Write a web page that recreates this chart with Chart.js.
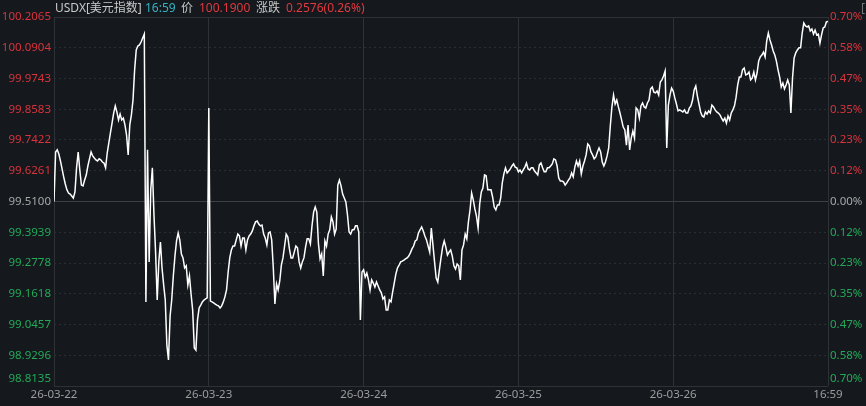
<!DOCTYPE html>
<html><head><meta charset="utf-8">
<script src="https://cdn.jsdelivr.net/npm/chart.js@4.4.1/dist/chart.umd.min.js"></script>
<style>
html,body{margin:0;padding:0;background:#15181d;}
#wrap{position:relative;width:866px;height:406px;overflow:hidden;}
#hdr span{position:absolute;top:0;font-size:12px;font-family:"Noto Sans","Noto Sans CJK SC",sans-serif;line-height:16px;white-space:nowrap;}
</style></head>
<body><div id="wrap"><canvas id="c" width="866" height="406"></canvas>
<div id="hdr">
<span style="left:55px;color:#c9c9c9">USDX[美元指数]</span>
<span style="left:145px;color:#35b3c1">16:59</span>
<span style="left:181px;color:#c9c9c9">价</span>
<span style="left:199px;color:#e0393f">100.1900</span>
<span style="left:256px;color:#c9c9c9">涨跌</span>
<span style="left:286px;color:#e0393f">0.2576(0.26%)</span>
<span style="left:861px;color:#777">[</span>
</div></div>
<script>
const dayLabels = ['26-03-22','26-03-23','26-03-24','26-03-25','26-03-26','16:59'];
const pointsPerDay = 96;
const prevClose = 99.51;
const leftTicks = [98.8135, 98.9296, 99.0457, 99.1618, 99.2778, 99.3939, 99.5100, 99.6261, 99.7422, 99.8583, 99.9743, 100.0904, 100.2065];
const leftLabels = ['98.8135','98.9296','99.0457','99.1618','99.2778','99.3939','99.5100','99.6261','99.7422','99.8583','99.9743','100.0904','100.2065'];
const pctLabels = ['0.70%','0.58%','0.47%','0.35%','0.23%','0.12%','0.00%','0.12%','0.23%','0.35%','0.47%','0.58%','0.70%'];

const pricesDay1 = [99.510,99.697,99.705,99.689,99.663,99.633,99.603,99.576,99.554,99.542,
99.538,99.531,99.523,99.546,99.637,99.697,99.629,99.572,99.569,99.591,
99.610,99.644,99.671,99.697,99.682,99.674,99.667,99.663,99.671,99.667,
99.659,99.655,99.637,99.693,99.731,99.769,99.806,99.844,99.871,99.848,
99.818,99.840,99.818,99.825,99.799,99.761,99.686,99.799,99.837,99.893,
100.007,100.082,100.097,100.101,100.112,100.127,100.142,99.131,99.705,99.282,
99.554,99.637,99.459,99.319,99.138,99.282,99.357,99.259,99.195,99.138,
98.968,98.912,99.078,99.138,99.229,99.304,99.361,99.391,99.365,99.312,
99.297,99.259,99.267,99.195,99.229,99.161,99.100,98.957,98.949,99.063,
99.108,99.119,99.131,99.138,99.142,99.146];
const pricesDay2 = [99.863,99.134,99.131,99.127,99.123,99.119,99.116,99.108,99.116,99.131,
99.150,99.176,99.244,99.297,99.327,99.342,99.342,99.365,99.387,99.380,
99.342,99.372,99.372,99.327,99.365,99.380,99.387,99.399,99.418,99.433,
99.436,99.425,99.418,99.421,99.387,99.372,99.346,99.391,99.395,99.365,
99.259,99.123,99.199,99.176,99.210,99.270,99.297,99.342,99.387,99.376,
99.331,99.297,99.297,99.319,99.342,99.335,99.282,99.259,99.282,99.297,
99.338,99.369,99.369,99.350,99.418,99.470,99.489,99.470,99.350,99.293,
99.312,99.229,99.361,99.342,99.387,99.403,99.452,99.433,99.387,99.406,
99.572,99.591,99.569,99.538,99.523,99.508,99.459,99.395,99.387,99.403,
99.403,99.418,99.418,99.395,99.063,99.244];
const pricesDay3 = [99.252,99.225,99.240,99.214,99.176,99.214,99.202,99.187,99.206,99.191,
99.176,99.165,99.142,99.150,99.100,99.100,99.138,99.131,99.168,99.202,
99.236,99.259,99.270,99.282,99.285,99.289,99.293,99.297,99.304,99.316,
99.331,99.342,99.361,99.365,99.391,99.403,99.414,99.399,99.380,99.365,
99.342,99.319,99.410,99.346,99.282,99.221,99.206,99.252,99.297,99.338,
99.361,99.338,99.308,99.319,99.327,99.304,99.267,99.255,99.274,99.267,
99.214,99.327,99.346,99.387,99.369,99.433,99.478,99.542,99.516,99.482,
99.455,99.410,99.501,99.546,99.561,99.610,99.607,99.554,99.554,99.554,
99.527,99.489,99.478,99.497,99.497,99.523,99.580,99.614,99.637,99.618,
99.625,99.633,99.644,99.652,99.640,99.637];
const pricesDay4 = [99.622,99.629,99.618,99.629,99.640,99.655,99.633,99.629,99.637,99.637,
99.625,99.618,99.610,99.648,99.655,99.637,99.622,99.622,99.637,99.637,
99.644,99.652,99.671,99.667,99.644,99.599,99.587,99.587,99.584,99.572,
99.580,99.591,99.599,99.618,99.603,99.640,99.663,99.644,99.663,99.614,
99.644,99.663,99.686,99.727,99.720,99.697,99.686,99.671,99.678,99.697,
99.712,99.697,99.659,99.644,99.659,99.682,99.712,99.795,99.867,99.912,
99.878,99.893,99.867,99.844,99.818,99.791,99.780,99.723,99.799,99.705,
99.750,99.776,99.750,99.863,99.856,99.825,99.871,99.882,99.867,99.863,
99.882,99.893,99.935,99.942,99.923,99.920,99.927,99.912,99.961,99.969,
99.984,100.003,99.712,99.874,99.912,99.938];
const pricesDay5 = [99.927,99.901,99.878,99.852,99.856,99.852,99.848,99.856,99.844,99.844,
99.863,99.871,99.893,99.931,99.946,99.908,99.878,99.848,99.833,99.829,
99.848,99.840,99.852,99.844,99.874,99.867,99.856,99.848,99.844,99.837,
99.825,99.814,99.825,99.806,99.833,99.818,99.844,99.856,99.871,99.904,
99.950,99.980,99.980,100.007,100.014,99.988,99.991,99.999,99.969,99.976,
99.999,99.969,99.995,100.040,100.056,100.063,100.074,100.056,100.116,100.146,
100.120,100.101,100.078,100.063,100.040,100.007,99.980,99.942,99.957,99.935,
99.950,99.969,99.950,99.844,99.976,100.052,100.071,100.082,100.090,100.090,
100.146,100.184,100.173,100.169,100.173,100.154,100.161,100.142,100.157,100.139,
100.142,100.108,100.139,100.165,100.169,100.188,100.190];

const prices = [].concat(pricesDay1, pricesDay2, pricesDay3, pricesDay4, pricesDay5);
const points = prices.map((p, i) => ({x: i, y: p}));

const RED = '#d8343c', GREEN = '#22aa58', GRAY = '#a6a6a6';
const tickColor = (ctx) => {
  const v = leftTicks[ctx.index];
  if (v > prevClose + 1e-6) return RED;
  if (v < prevClose - 1e-6) return GREEN;
  return GRAY;
};
const FONT = {family: '"Noto Sans", sans-serif', size: 11.5};

const bottomLabelShift = {
  id: 'bottomLabelShift',
  beforeDraw(chart) {
    ['y', 'y2'].forEach(id => {
      const s = chart.scales[id];
      if (!s || typeof s.getLabelItems !== 'function') return;
      const items = s.getLabelItems(chart.chartArea);
      const it = items && items[0];
      if (it && it.options && it.options.translation && !it._moved) {
        it.options.translation[1] -= 7;
        it._moved = true;
      }
    });
  }
};

new Chart(document.getElementById('c'), {
  type: 'line',
  data: {
    datasets: [{
      data: points,
      borderColor: '#ffffff',
      borderWidth: 1.5,
      pointRadius: 0,
      tension: 0,
      fill: false
    }]
  },
  options: {
    responsive: false,
    animation: false,
    devicePixelRatio: 1,
    layout: {padding: {top: 17, left: 0, right: 0, bottom: 0}},
    plugins: {legend: {display: false}, tooltip: {enabled: false}},
    scales: {
      x: {
        type: 'linear',
        min: 0,
        max: pointsPerDay * 5,
        afterBuildTicks: s => { s.ticks = dayLabels.map((_, k) => ({value: k * pointsPerDay})); },
        afterFit: s => { s.height = 20; },
        ticks: {
          callback: (v, i) => dayLabels[i],
          color: '#9d9d9d',
          font: FONT,
          padding: 2,
          maxRotation: 0,
          autoSkip: false
        },
        grid: {drawTicks: false, color: '#2e3136', lineWidth: 1},
        border: {display: false}
      },
      y: {
        position: 'left',
        min: leftTicks[0],
        max: leftTicks[leftTicks.length - 1],
        afterBuildTicks: s => { s.ticks = leftTicks.map(v => ({value: v})); },
        afterFit: s => { s.width = 54; },
        ticks: {
          callback: (v, i) => leftLabels[i],
          color: tickColor,
          font: FONT,
          padding: 3,
          autoSkip: false
        },
        grid: {
          drawTicks: false,
          lineWidth: 1,
          color: c => (c.index === 0 || c.index === 6 || c.index === 12) ? 'rgba(0,0,0,0)' : '#2a2d32'
        },
        border: {display: false, dash: [2, 3]}
      },
      y2: {
        position: 'right',
        min: leftTicks[0],
        max: leftTicks[leftTicks.length - 1],
        afterBuildTicks: s => { s.ticks = leftTicks.map(v => ({value: v})); },
        afterFit: s => { s.width = 38; },
        ticks: {
          callback: (v, i) => pctLabels[i],
          color: tickColor,
          font: FONT,
          padding: 2,
          autoSkip: false
        },
        grid: {
          drawTicks: false,
          lineWidth: 1,
          color: c => c.index === 6 ? '#3c3f44' : ((c.index === 0 || c.index === 12) ? '#2e3136' : 'rgba(0,0,0,0)')
        },
        border: {display: false}
      }
    }
  },
  plugins: [bottomLabelShift]
});
</script>
</body></html>
